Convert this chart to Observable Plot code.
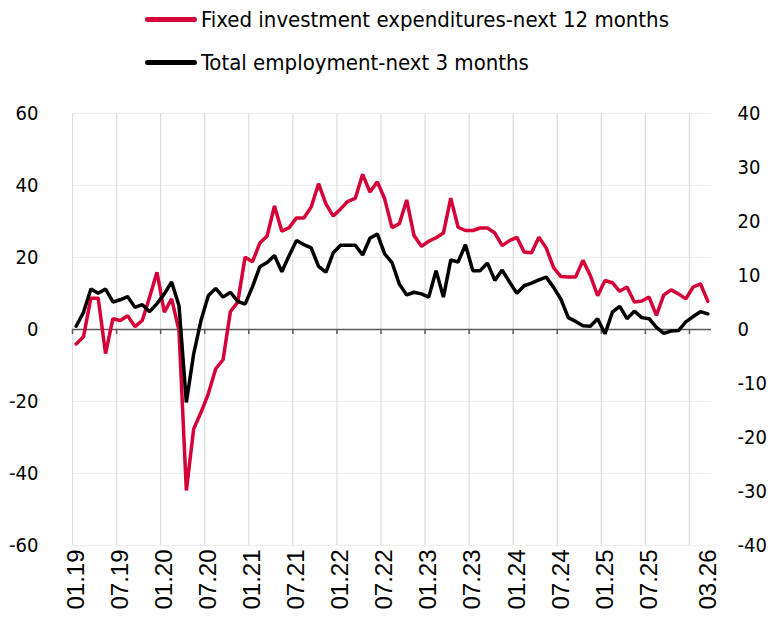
<!DOCTYPE html>
<html><head><meta charset="utf-8">
<script src="https://cdn.jsdelivr.net/npm/d3@7"></script>
<script src="https://cdn.jsdelivr.net/npm/@observablehq/plot@0.6"></script>
<style>
body{margin:0;background:#fff;}
#wrap{position:relative;width:783px;height:639px;overflow:hidden;}
.legend{position:absolute;left:145px;font-family:"Liberation Sans Narrow","DejaVu Sans Condensed","Liberation Sans",sans-serif;font-size:22px;color:#000;display:flex;align-items:center;white-space:nowrap;}
.legend .sw{width:52px;height:5px;border-radius:3px;margin-right:4px;}
#chart{position:absolute;top:95px;left:0;}
</style></head><body>
<div id="wrap">
<div class="legend" style="top:7px"><span class="sw" style="background:#d50037"></span><span>Fixed investment expenditures-next 12 months</span></div>
<div class="legend" style="top:50px"><span class="sw" style="background:#000"></span><span>Total employment-next 3 months</span></div>
<div id="chart"></div>
</div>
<script>
// Series names
const seriesNames = ["Fixed investment expenditures-next 12 months", "Total employment-next 3 months"];
// Monthly values Jan 2019 .. Mar 2026 (87 months)
const fixedInvestment = [
 -4.0, -2.0, 8.7, 8.7, -6.7, 3.0, 2.5, 3.8, 0.8, 2.5, 9.0, 15.9,
 4.8, 8.5, -0.3, -44.7, -27.6, -23.0, -17.8, -10.9, -8.4, 5.0, 7.6, 20.1,
 18.8, 24.0, 26.0, 34.3, 27.3, 28.3, 31.0, 31.0, 34.0, 40.5, 34.9, 31.5,
 33.5, 35.6, 36.4, 43.1, 38.2, 41.0, 36.3, 28.3, 29.4, 36.0, 26.1, 23.1,
 24.5, 25.5, 26.8, 36.5, 28.4, 27.5, 27.5, 28.2, 28.2, 26.8, 23.3, 24.7,
 25.6, 21.5, 21.3, 25.6, 22.6, 17.2, 14.7, 14.6, 14.6, 19.2, 15.0, 9.4,
 13.6, 13.0, 10.6, 11.8, 7.6, 7.9, 9.0, 3.9, 9.6, 11.0, 9.9, 8.5,
 11.8, 12.7, 7.8
];
const totalEmployment = [
 0.6, 3.2, 7.5, 6.7, 7.5, 5.1, 5.5, 6.1, 4.1, 4.6, 3.3, 4.8,
 6.6, 8.8, 4.4, -13.5, -4.5, 1.7, 6.3, 7.6, 6.0, 6.9, 5.2, 4.7,
 7.9, 11.6, 12.4, 13.7, 10.7, 13.7, 16.5, 15.7, 15.1, 11.7, 10.6, 14.2,
 15.6, 15.6, 15.6, 13.8, 16.9, 17.7, 14.0, 12.4, 8.4, 6.4, 6.9, 6.6,
 6.0, 10.9, 6.0, 12.9, 12.5, 15.7, 10.9, 10.9, 12.3, 9.1, 11.0, 8.8,
 6.7, 8.1, 8.6, 9.2, 9.7, 7.8, 5.6, 2.2, 1.5, 0.7, 0.6, 2.0,
 -0.8, 3.2, 4.3, 2.0, 3.4, 2.2, 2.0, 0.4, -0.7, -0.3, -0.2, 1.4,
 2.4, 3.3, 2.9
];
// Tick labels
const xTickLabels = ["01.19","07.19","01.20","07.20","01.21","07.21","01.22","07.22","01.23","07.23","01.24","07.24","01.25","07.25","03.26"];
const gridMonths = ["01.19","07.19","01.20","07.20","01.21","07.21","01.22","07.22","01.23","07.23","01.24","07.24","01.25","07.25","01.26"];
const leftTicks = [-60, -40, -20, 0, 20, 40, 60];
const rightTicks = [-40, -30, -20, -10, 0, 10, 20, 30, 40];

// month category list
const months = [];
for (let k = 0; k < fixedInvestment.length; k++) {
  const m = k % 12 + 1, yr = 19 + Math.floor(k / 12);
  months.push(String(m).padStart(2, "0") + "." + String(yr).padStart(2, "0"));
}
const ratio = 60 / 40; // right axis -> left axis units
const data = months.map((m, i) => ({i, m, fi: fixedInvestment[i], te: totalEmployment[i]}));
const labelIdx = xTickLabels.map(l => months.indexOf(l));
const gridIdx = gridMonths.map(l => months.indexOf(l) - 0.5);

const red = "#d50037";
const yFont = "'Liberation Sans Narrow','DejaVu Sans Condensed',sans-serif";
const chart = Plot.plot({
  width: 783,
  height: 544,
  marginTop: 18,
  marginBottom: 94,
  marginLeft: 72,
  marginRight: 72,
  x: {type: "linear", domain: [-0.5, months.length - 0.5], axis: null},
  y: {domain: [-60, 60], axis: null},
  style: {background: "#fff"},
  marks: [
    Plot.ruleY(leftTicks, {stroke: "#efefef", strokeWidth: 1.2}),
    Plot.ruleX(gridIdx, {x: d => d, y1: -60, y2: 60, stroke: "#dcdcdc", strokeWidth: 1.2}),
    Plot.ruleY([0], {stroke: "#595959", strokeWidth: 1.5}),
    Plot.ruleX(gridIdx, {x: d => d, y1: 0, y2: -1.4, stroke: "#595959", strokeWidth: 1.5}),
    Plot.line(data, {x: "i", y: "fi", stroke: red, strokeWidth: 3.5, strokeLinejoin: "miter"}),
    Plot.line(data, {x: "i", y: d => d.te * ratio, stroke: "#000", strokeWidth: 3.5, strokeLinejoin: "miter"}),
    Plot.axisY(leftTicks, {anchor: "left", label: null, tickSize: 0, tickPadding: 34, fontSize: 20,
      tickFormat: d => String(d), fontFamily: yFont, fill: "#000"}),
    Plot.axisY(rightTicks.map(d => d * ratio), {anchor: "right", label: null, tickSize: 0, tickPadding: 26, fontSize: 20,
      tickFormat: d => String(Math.round(d / ratio)), fontFamily: yFont, fill: "#000"}),
    Plot.axisX(labelIdx, {anchor: "bottom", label: null, tickSize: 0, tickPadding: 4, tickRotate: -90, fontSize: 24,
      tickFormat: d => months[d], fontFamily: "'Liberation Sans',Arial,sans-serif", fill: "#000"})
  ]
});
document.getElementById("chart").appendChild(chart);
</script>
</body></html>
